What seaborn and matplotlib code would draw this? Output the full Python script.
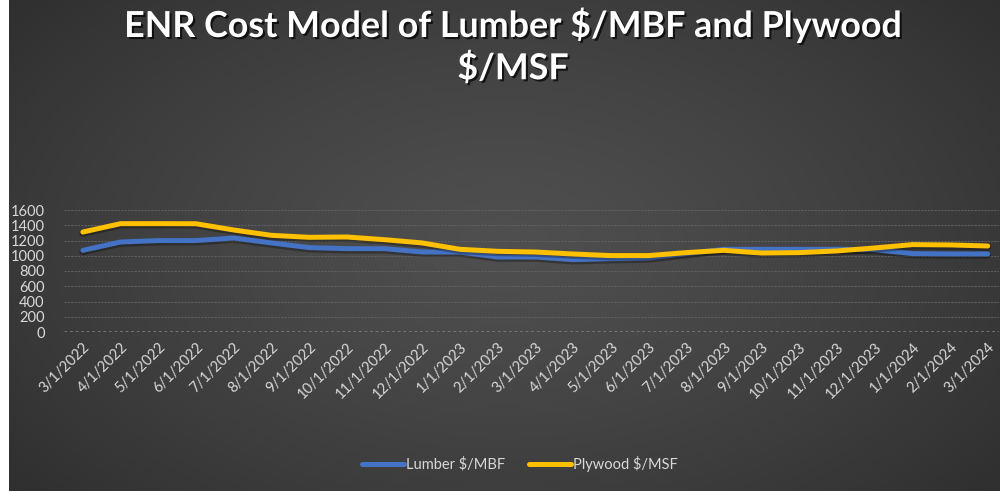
import numpy as np
import pandas as pd
import matplotlib
matplotlib.use("Agg")
import matplotlib.pyplot as plt
import matplotlib.patheffects as pe
import seaborn as sns

dates = ["3/1/2022", "4/1/2022", "5/1/2022", "6/1/2022", "7/1/2022", "8/1/2022",
         "9/1/2022", "10/1/2022", "11/1/2022", "12/1/2022", "1/1/2023", "2/1/2023",
         "3/1/2023", "4/1/2023", "5/1/2023", "6/1/2023", "7/1/2023", "8/1/2023",
         "9/1/2023", "10/1/2023", "11/1/2023", "12/1/2023", "1/1/2024", "2/1/2024",
         "3/1/2024"]
lumber = [1071, 1180, 1199, 1199, 1233, 1168, 1107, 1093, 1093, 1049, 1049, 984,
          984, 949, 962, 971, 1028, 1085, 1085, 1085, 1085, 1080, 1028, 1024, 1024]
plywood = [1311, 1421, 1421, 1420, 1338, 1268, 1242, 1246, 1211, 1168, 1085, 1058,
           1049, 1023, 1002, 1002, 1041, 1071, 1036, 1041, 1063, 1102, 1146, 1142, 1128]
series_names = ["Lumber $/MBF", "Plywood $/MSF"]
colors = ["#4472C4", "#FFC000"]
yticks = [0, 200, 400, 600, 800, 1000, 1200, 1400, 1600]

df = pd.DataFrame({
    "date": dates * 2,
    "value": lumber + plywood,
    "series": [series_names[0]] * len(dates) + [series_names[1]] * len(dates),
})

sns.set_theme(style="dark")
plt.rcParams["font.family"] = ["Lato", "DejaVu Sans"]

W, H = 1000, 491
fig = plt.figure(figsize=(W / 100, H / 100), dpi=100, facecolor="white")

# background gradient panel
bg = fig.add_axes([9 / W, 0, 1 - 9 / W, 1], zorder=-5)
yy, xx = np.mgrid[0:1:200j, 0:1:400j]
r = np.sqrt(((xx - 0.5) / 0.75) ** 2 + ((yy - 0.5) / 0.9) ** 2)
img = 0.31 - 0.15 * np.clip(r, 0, 1) ** 1.3
bg.imshow(np.dstack([img, img, img]), aspect="auto", extent=[0, 1, 0, 1],
          interpolation="bilinear")
bg.set_axis_off()

ax = fig.add_axes([64 / W, (H - 332) / H, (999 - 64) / W, 122 / H])
ax.set_facecolor((0, 0, 0, 0))

sns.lineplot(data=df, x="date", y="value", hue="series", palette=colors,
             linewidth=3.6, ax=ax, legend=True, sort=False)
for ln in ax.lines:
    ln.set_solid_capstyle("round")
    ln.set_path_effects([pe.SimpleLineShadow(offset=(0, -1), shadow_color="black",
                                             alpha=0.3, linewidth=5), pe.Normal()])

ax.set_xlim(-0.5, 24.3)
ax.set_ylim(0, 1600)
ax.set_yticks(yticks)
ax.set_yticklabels([str(v) for v in yticks])
ax.grid(False)
for v in yticks[1:]:
    ax.axhline(v, color="#5f5f5f", linewidth=0.8, linestyle=(0, (2, 1)), zorder=0)
ax.axhline(0, color="#7a7a7a", linewidth=2.0, linestyle=(0, (1, 1)), zorder=0)
for s in ax.spines.values():
    s.set_visible(False)
ax.set_xlabel("")
ax.set_ylabel("")
ax.tick_params(axis="y", colors="#d9d9d9", labelsize=10.5, length=0, pad=14)
ax.tick_params(axis="x", colors="#d9d9d9", labelsize=10.5, length=0, pad=6)
for lab in ax.get_yticklabels():
    lab.set_color("#d9d9d9")
plt.setp(ax.get_xticklabels(), rotation=45, ha="right", rotation_mode="anchor",
         color="#d9d9d9")

leg = ax.legend(loc="center", ncol=2, frameon=False, fontsize=10.5, handlelength=2.9,
                handletextpad=0.15, columnspacing=1.6)
leg.set_bbox_to_anchor((520 / W, (H - 464) / H), transform=fig.transFigure)
for t in leg.get_texts():
    t.set_color("#d9d9d9")
for h in leg.get_lines():
    h.set_linewidth(3.6)
    h.set_path_effects([])

fig.text(513 / W, 1 - 7 / H, "ENR Cost Model of Lumber $/MBF and Plywood\n$/MSF",
         ha="center", va="top", color="white", fontsize=25.8, fontweight="bold",
         linespacing=1.25,
         path_effects=[pe.withSimplePatchShadow(offset=(1.5, -1.5), shadow_rgbFace="black",
                                                alpha=0.7)])

fig.savefig("out.png", dpi=100, facecolor=fig.get_facecolor())
